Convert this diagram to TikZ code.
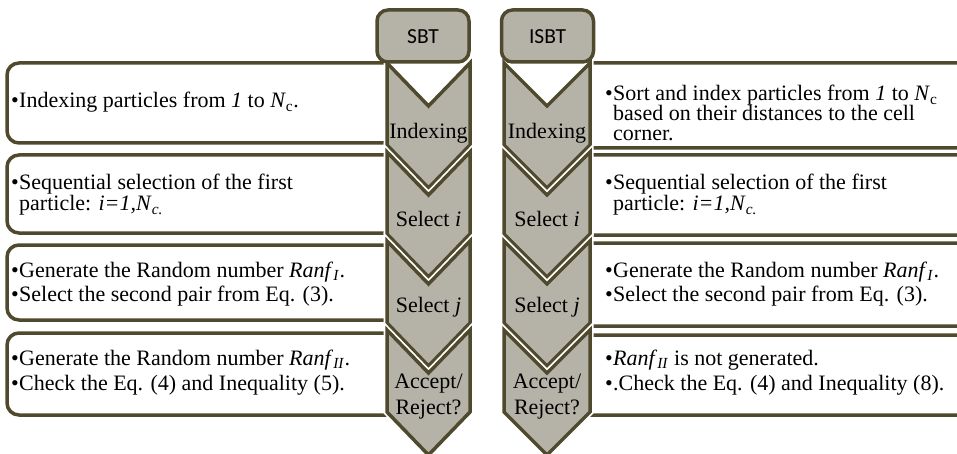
\documentclass[tikz,border=0pt]{standalone}
\usepackage{fontspec}
\setmainfont{Liberation Serif}
\newfontfamily\tabfont{Carlito}
\definecolor{edgecol}{RGB}{79,73,45}
\definecolor{chevfill}{RGB}{181,179,167}

% one chevron of a column: centre x, top y, half width
\newcommand\chevshape[3]{({#1-#3},{#2}) -- ({#1},{#2+43}) -- ({#1+#3},{#2}) -- ({#1+#3},{#2+82}) -- ({#1},{#2+125}) -- ({#1-#3},{#2+82}) -- cycle}
\newcommand\notchshape[3]{({#1-#3},{#2}) -- ({#1},{#2+43}) -- ({#1+#3},{#2}) -- cycle}
\newcommand\bul{\makebox[8pt][l]{•}}
\newcommand\nobul{\hspace*{8pt}}

\tikzset{
  panel/.style={draw=edgecol, line width=3.5pt, fill=white, rounded corners=12pt},
  halo/.style={draw=white, line width=7pt, line join=miter},
  chevron/.style={draw=edgecol, fill=chevfill, line width=3.5pt, line join=miter},
  tabbox/.style={draw=edgecol, fill=chevfill, line width=3.5pt, rounded corners=11pt,
    minimum width=92pt, minimum height=52pt, inner sep=0pt},
  tablabel/.style={font=\tabfont\fontsize{21.5}{24}\selectfont, anchor=base, inner sep=0pt},
  body/.style={font=\fontsize{22}{22}\selectfont, anchor=base west, inner sep=0pt,
    text height=14pt, text depth=3pt},
  stage/.style={font=\fontsize{22}{24}\selectfont, anchor=base, inner sep=0pt}
}

\begin{document}
\begin{tikzpicture}[x=1pt, y=-1pt]
\useasboundingbox (0,0) rectangle (957,454);
\clip (0,0) rectangle (957,454);

% text panels, left column
\draw[panel] (7,63) rectangle (430,143);
\draw[panel] (7,155) rectangle (430,233);
\draw[panel] (7,245) rectangle (430,320);
\draw[panel] (7,333) rectangle (430,415);

% text panels, right column
\draw[panel] (547,63) rectangle (985,148);
\draw[panel] (547,155) rectangle (985,235);
\draw[panel] (547,243) rectangle (985,326);
\draw[panel] (547,335) rectangle (985,415);

% open notches above the first chevrons
\fill[white] \notchshape{428.5}{63}{41.5};
\fill[white] \notchshape{547}{63}{43};

% SBT chevron column
\foreach \yy in {63,152,241,330} {
  \draw[halo] \chevshape{428.5}{\yy}{41.5};
  \draw[chevron] \chevshape{428.5}{\yy}{41.5};
}
% ISBT chevron column
\foreach \yy in {63,152,241,330} {
  \draw[halo] \chevshape{547}{\yy}{43};
  \draw[chevron] \chevshape{547}{\yy}{43};
}

% column headers
\node[tabbox] (sbttab) at (423,36) {};
\node[tablabel] (sbtlabel) at (423,44) {SBT};
\node[tabbox] (isbttab) at (547.5,36) {};
\node[tablabel] (isbtlabel) at (547.5,44) {ISBT};

% stage labels
\node[stage] (sa) at (428.5,139) {Indexing};
\node[stage] (sb) at (428.5,226) {Select \textit{i}};
\node[stage] (sc) at (428.5,312) {Select \textit{j}};
\node[stage] (sd1) at (428.5,388) {Accept/};
\node[stage] (sd2) at (428.5,414) {Reject?};
\node[stage] (ia) at (547,139) {Indexing};
\node[stage] (ib) at (547,226) {Select \textit{i}};
\node[stage] (ic) at (547,312) {Select \textit{j}};
\node[stage] (id1) at (547,388) {Accept/};
\node[stage] (id2) at (547,414) {Reject?};

% SBT descriptions
\node[body] (l1) at (11,108) {\bul Indexing particles from \textit{1} to \textit{N}\textsubscript{c}.};
\node[body] (l2a) at (11,190) {\bul Sequential selection of the first};
\node[body] (l2b) at (11,211) {\nobul particle: \textit{i=1,N}\textsubscript{\textit{c.}}};
\node[body] (l3a) at (11,277) {\bul Generate the Random number \textit{Ranf}\textsubscript{\textit{I}}.};
\node[body] (l3b) at (11,301) {\bul Select the second pair from Eq. (3).};
\node[body] (l4a) at (11,365) {\bul Generate the Random number \textit{Ranf}\textsubscript{\textit{II}}.};
\node[body] (l4b) at (11,390) {\bul Check the Eq. (4) and Inequality (5).};

% ISBT descriptions
\node[body] (r1a) at (605,101) {\bul Sort and index particles from \textit{1} to \textit{N}\textsubscript{c}};
\node[body] (r1b) at (605,121) {\nobul based on their distances to the cell};
\node[body] (r1c) at (605,141) {\nobul corner.};
\node[body] (r2a) at (605,190) {\bul Sequential selection of the first};
\node[body] (r2b) at (605,211) {\nobul particle: \textit{i=1,N}\textsubscript{\textit{c.}}};
\node[body] (r3a) at (605,277) {\bul Generate the Random number \textit{Ranf}\textsubscript{\textit{I}}.};
\node[body] (r3b) at (605,301) {\bul Select the second pair from Eq. (3).};
\node[body] (r4a) at (605,365) {\bul \textit{Ranf}\textsubscript{\textit{II}} is not generated.};
\node[body] (r4b) at (605,390) {\bul .Check the Eq. (4) and Inequality (8).};
\end{tikzpicture}
\end{document}
